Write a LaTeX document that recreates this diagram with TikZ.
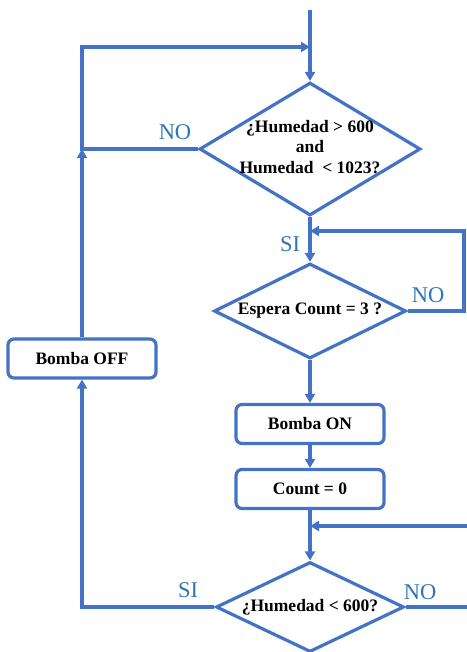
\documentclass[tikz,border=0pt]{standalone}
\usepackage{fontspec}
\setmainfont{Liberation Serif}
\usetikzlibrary{shapes.geometric,arrows.meta}
\definecolor{lineblue}{HTML}{4472C4}
\definecolor{labblue}{HTML}{2E75B6}
\begin{document}
\begin{tikzpicture}[x=1pt,y=-1pt,
  line width=3.2pt,
  conn/.style={draw=lineblue,line width=3.2pt},
  arr/.style={conn,-{Triangle[length=9pt,width=10pt]}},
  dia/.style={diamond,draw=lineblue,line width=3.2pt,inner sep=0pt},
  pbox/.style={rectangle,rounded corners=6pt,draw=lineblue,line width=3.2pt,minimum width=148pt,minimum height=39pt,inner sep=0pt,font=\fontsize{17.5}{20}\selectfont\bfseries},
  txt/.style={font=\fontsize{17.5}{20.5}\selectfont\bfseries,align=center,inner sep=0pt},
  lab/.style={text=labblue,font=\fontsize{22.5}{24}\selectfont,inner sep=0pt}]
\useasboundingbox (0,0) rectangle (466,652);
% nodes
\node[dia,minimum width=221pt,minimum height=133pt] (d1) at (310,149) {};
\node[txt] (d1t) at (310,147) {¿Humedad > 600\\and\\Humedad~~< 1023?};
\node[dia,minimum width=192pt,minimum height=95pt] (d2) at (310,311) {};
\node[txt] (d2t) at (310,311) {Espera Count = 3 ?};
\node[pbox] (off) at (82,358.5) {Bomba OFF};
\node[pbox] (on) at (310,424) {Bomba ON};
\node[pbox] (cnt) at (310,489) {Count = 0};
\node[dia,minimum width=188pt,minimum height=90pt] (d3) at (310,607) {};
\node[txt] (d3t) at (310,607) {¿Humedad < 600?};
% coordinates
\coordinate (start) at (310,10);
\coordinate (j1) at (310,47);
\coordinate (j2) at (310,231);
\coordinate (j3) at (310,526);
\coordinate (lc) at (82,149);
\coordinate (rin) at (467,526);
\coordinate (rout) at (467,607);
% labels
\node[lab] (no1) at (175,132) {NO};
\node[lab] (si1) at (290,244) {SI};
\node[lab] (no2) at (428,295) {NO};
\node[lab] (si3) at (188,590) {SI};
\node[lab] (no3) at (420,592) {NO};
% connectors
\draw[arr] (start) -- (d1.north);
\draw[arr] (d1.west) -- (lc) -- (lc |- j1) -- (j1);
\draw[arr] (off.north) -- (lc);
\draw[arr] (d1.south) -- (d2.north);
\draw[arr] (d2.east) -- (464,311) -- (464,231) -- (j2);
\draw[arr] (d2.south) -- (on.north);
\draw[arr] (on.south) -- (cnt.north);
\draw[arr] (cnt.south) -- (d3.north);
\draw[arr] (rin) -- (j3);
\draw[conn] (d3.east) -- (rout);
\draw[arr] (d3.west) -- (off.south |- d3.west) -- (off.south);
\end{tikzpicture}
\end{document}
